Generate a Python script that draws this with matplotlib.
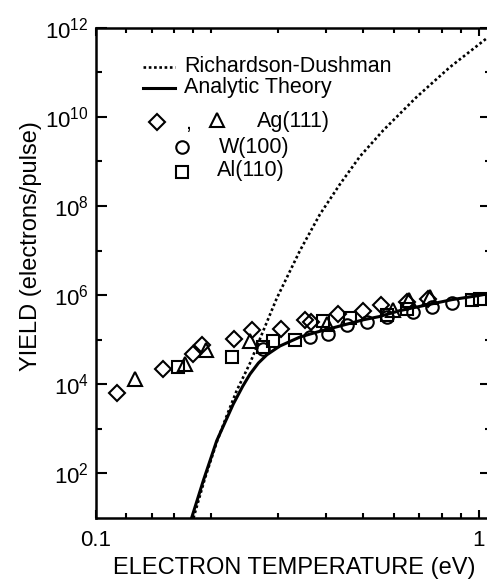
import matplotlib
matplotlib.use("Agg")
import matplotlib.pyplot as plt
from matplotlib.lines import Line2D
from matplotlib.ticker import FixedLocator, NullFormatter, FixedFormatter

plt.rcParams['font.family'] = ['Liberation Sans', 'DejaVu Sans']
plt.rcParams['mathtext.fontset'] = 'custom'
plt.rcParams['mathtext.rm'] = 'Liberation Sans'
plt.rcParams['mathtext.it'] = 'Liberation Sans'
plt.rcParams['mathtext.bf'] = 'Liberation Sans:bold'

# ---- data ----
rd_T = [0.180, 0.193, 0.207, 0.220, 0.2334, 0.253, 0.274, 0.297, 0.3415, 0.385,
        0.4345, 0.49, 0.5636, 0.689, 0.841, 1.05]
rd_Y = [1.0e1, 7.9e1, 5.0e2, 2.0e3, 7.2e3, 3.0e4, 1.6e5, 8.5e5, 1.0e7, 6.5e7,
        3.1e8, 1.3e9, 5.0e9, 2.8e10, 1.3e11, 5.8e11]

an_T = [0.178, 0.191, 0.207, 0.2287, 0.242, 0.253, 0.266, 0.280, 0.3025, 0.3415,
        0.38, 0.417, 0.50, 0.55, 0.623, 0.75, 0.85, 1.0, 1.08]
an_Y = [1.0e1, 6.9e1, 5.4e2, 3.6e3, 9.0e3, 1.7e4, 3.0e4, 4.6e4, 7.2e4, 1.15e5,
        1.5e5, 1.85e5, 2.8e5, 3.3e5, 4.5e5, 6.3e5, 7.9e5, 9.8e5, 1.12e6]

ag_dia_T = [0.114, 0.150, 0.179, 0.189, 0.230, 0.256, 0.305, 0.352, 0.366, 0.430,
            0.500, 0.556, 0.649, 0.738]
ag_dia_Y = [6.3e3, 2.2e4, 4.8e4, 7.8e4, 1.05e5, 1.66e5, 1.74e5, 2.7e5, 2.45e5, 3.8e5,
            4.4e5, 5.9e5, 6.9e5, 8.3e5]

ag_tri_T = [0.127, 0.171, 0.194, 0.253, 0.401, 0.598, 0.656, 0.746]
ag_tri_Y = [1.3e4, 2.9e4, 5.8e4, 9.5e4, 2.3e5, 4.6e5, 7.6e5, 9.1e5]

w_T = [0.274, 0.3626, 0.405, 0.452, 0.51, 0.575, 0.675, 0.754, 0.85]
w_Y = [6.2e4, 1.17e5, 1.35e5, 2.1e5, 2.45e5, 3.2e5, 4.2e5, 5.4e5, 6.5e5]

al_T = [0.164, 0.2265, 0.273, 0.291, 0.331, 0.393, 0.461, 0.575, 0.649, 0.959, 1.01]
al_Y = [2.4e4, 4.1e4, 6.8e4, 9.5e4, 1.0e5, 2.6e5, 3.0e5, 3.5e5, 4.9e5, 7.6e5, 8.3e5]

x_major = [0.1, 1.0]
x_major_labels = ['0.1', '1']
x_minor = [0.12, 0.14, 0.16, 0.18, 0.2, 0.3, 0.4, 0.5, 0.6, 0.7, 0.8, 0.9]
y_major = [1e2, 1e4, 1e6, 1e8, 1e10, 1e12]
y_major_labels = [r'$10^{2}$', r'$10^{4}$', r'$10^{6}$', r'$10^{8}$', r'$10^{10}$', r'$10^{12}$']
y_minor = [1e3, 1e5, 1e7, 1e9, 1e11]

legend_labels = ['Richardson-Dushman', 'Analytic Theory', 'Ag(111)', 'W(100)', 'Al(110)']

# ---- figure ----
W, H = 487, 579
fig = plt.figure(figsize=(W / 100, H / 100), dpi=100)
L, R, T_, B = 95.7, 491.0, 27.7, 518.0
ax = fig.add_axes([L / W, 1 - B / H, (R - L) / W, (B - T_) / H])
ax.set_xscale('log')
ax.set_yscale('log')
ax.set_xlim(0.1, 1.077)
ax.set_ylim(1e1, 1e12)

ax.plot(rd_T, rd_Y, color='black', lw=1.9, linestyle=(0, (1, 1)), zorder=2)
ax.plot(an_T, an_Y, color='black', lw=2.2, zorder=3)

mk = dict(linestyle='none', markerfacecolor='none', markeredgecolor='black',
          markeredgewidth=1.5, zorder=4)
ax.plot(ag_dia_T, ag_dia_Y, marker='D', markersize=8, **mk)
ax.plot(ag_tri_T, ag_tri_Y, marker='^', markersize=9.5, **mk)
ax.plot(w_T, w_Y, marker='o', markersize=9, **mk)
ax.plot(al_T, al_Y, marker='s', markersize=9, **mk)

# ticks
ax.xaxis.set_major_locator(FixedLocator(x_major))
ax.xaxis.set_major_formatter(FixedFormatter(x_major_labels))
ax.xaxis.set_minor_locator(FixedLocator(x_minor))
ax.xaxis.set_minor_formatter(NullFormatter())
ax.yaxis.set_major_locator(FixedLocator(y_major))
ax.yaxis.set_major_formatter(FixedFormatter(y_major_labels))
ax.yaxis.set_minor_locator(FixedLocator(y_minor))
ax.yaxis.set_minor_formatter(NullFormatter())

ax.tick_params(axis='both', which='both', direction='in', top=True, right=True,
               width=1.5, colors='black')
ax.tick_params(axis='x', which='major', length=6, pad=9, labelsize=16)
ax.tick_params(axis='x', which='minor', length=3.5)
ax.tick_params(axis='y', which='major', length=8, pad=5, labelsize=16)
ax.tick_params(axis='y', which='minor', length=4.5)
for s in ax.spines.values():
    s.set_linewidth(1.8)

ax.set_xlabel('ELECTRON TEMPERATURE (eV)', fontsize=17)
ax.set_ylabel('YIELD (electrons/pulse)', fontsize=17)
ax.xaxis.set_label_coords((294 - L) / (R - L), -(557 - B) / (B - T_))
ax.yaxis.set_label_coords((42 - L) / (R - L), 1 - (246 - T_) / (B - T_))


# ---- manual legend (figure pixel positions) ----
def fx(px):
    return px / W


def fy(py):
    return 1 - py / H


tf = fig.transFigure
fig.add_artist(Line2D([fx(143), fx(175)], [fy(66.5), fy(66.5)], transform=tf,
                      color='black', lw=1.9, linestyle=(0, (1, 1))))
fig.add_artist(Line2D([fx(143), fx(175)], [fy(88), fy(88)], transform=tf,
                      color='black', lw=2.2))
fs = 15.5
fig.text(fx(184), fy(66), legend_labels[0], fontsize=fs, va='center', ha='left')
fig.text(fx(184), fy(87), legend_labels[1], fontsize=fs, va='center', ha='left')

lmk = dict(transform=tf, linestyle='none', markerfacecolor='none',
           markeredgecolor='black', markeredgewidth=1.5)
fig.add_artist(Line2D([fx(156.7)], [fy(121.7)], marker='D', markersize=8, **lmk))
fig.text(fx(188), fy(124), ',', fontsize=fs, va='center', ha='center')
fig.add_artist(Line2D([fx(217)], [fy(120)], marker='^', markersize=9.5, **lmk))
fig.text(fx(257), fy(122), legend_labels[2], fontsize=fs, va='center', ha='left')
fig.add_artist(Line2D([fx(181.7)], [fy(146.7)], marker='o', markersize=9, **lmk))
fig.text(fx(219), fy(147), legend_labels[3], fontsize=fs, va='center', ha='left')
fig.add_artist(Line2D([fx(181.7)], [fy(171.7)], marker='s', markersize=9, **lmk))
fig.text(fx(217), fy(171), legend_labels[4], fontsize=fs, va='center', ha='left')

fig.savefig('out.png', dpi=100)
